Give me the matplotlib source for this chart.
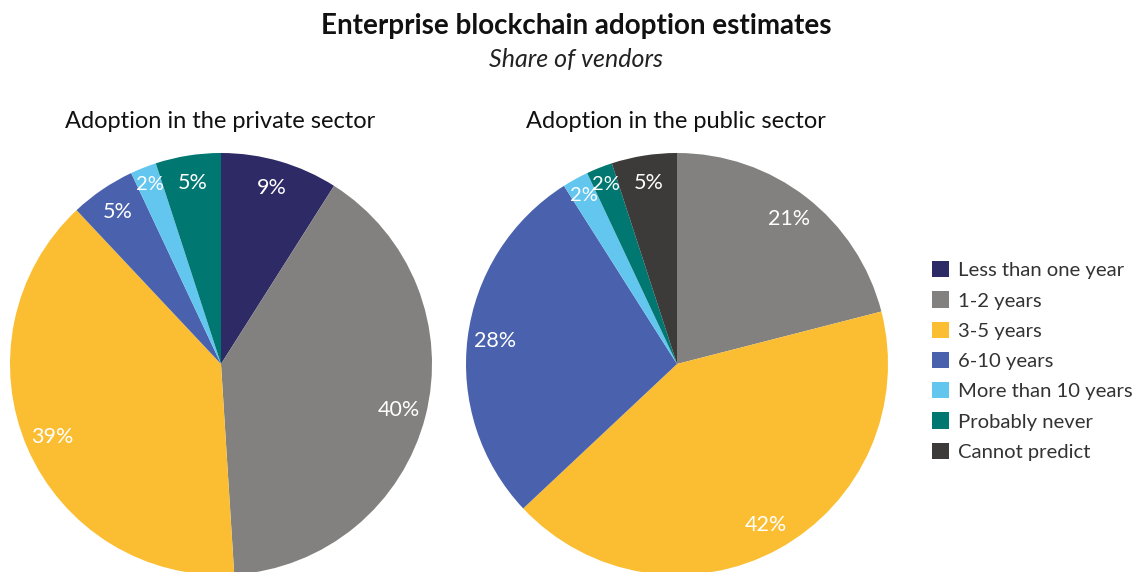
import matplotlib
matplotlib.use("Agg")
import matplotlib.pyplot as plt
from matplotlib.patches import Patch

plt.rcParams['font.family'] = ['Lato', 'DejaVu Sans']

categories = ["Less than one year", "1-2 years", "3-5 years", "6-10 years",
              "More than 10 years", "Probably never", "Cannot predict"]
colors = ["#2E2A66", "#82817F", "#FBBE33", "#4A62AE", "#63C6EE", "#007770", "#3C3B39"]

private_share = [9, 40, 39, 5, 2, 5, 0]
public_share = [0, 21, 42, 28, 2, 2, 5]


def pct_label(p):
    return f"{p:.0f}%" if p > 0.5 else ""


fig = plt.figure(figsize=(11.4, 5.72), dpi=100)

fig.text(576 / 1140, 1 - 26 / 572, "Enterprise blockchain adoption estimates", ha="center", va="center",
         fontsize=20, fontweight="bold", color="#111111")
fig.text(576 / 1140, 1 - 60 / 572, "Share of vendors", ha="center", va="center",
         fontsize=18, style="italic", color="#222222")

panels = [
    (private_share, "Adoption in the private sector", 10, 220),
    (public_share, "Adoption in the public sector", 466, 676),
]
for values, title, left_px, title_x in panels:
    ax = fig.add_axes([left_px / 1140, -3 / 572, 422 / 1140, 422 / 572])
    wedges, texts, autotexts = ax.pie(values, colors=colors, startangle=90, counterclock=False,
                                      autopct=pct_label, pctdistance=0.87,
                                      wedgeprops=dict(linewidth=0))
    for t, v in zip(autotexts, values):
        t.set_color("white")
        t.set_fontsize(15.5)
        if v <= 2:
            # thin slices: push the label a little further out, as in the original
            x, y = t.get_position()
            t.set_position((x * 1.05, y * 1.05))
            t.set_fontsize(14.5)
    ax.set_xlim(-1, 1)
    ax.set_ylim(-1, 1)
    ax.set_aspect("equal")
    ax.axis("off")
    fig.text(title_x / 1140, 1 - 121 / 572, title, ha="center", va="center",
             fontsize=17, color="#111111")

handles = [Patch(facecolor=c, edgecolor="none") for c in colors]
fig.legend(handles, categories, loc="center left", bbox_to_anchor=(914 / 1140, 1 - 361 / 572),
           frameon=False, fontsize=14.6, handlelength=0.85, handleheight=0.85,
           handletextpad=0.4, labelspacing=0.6, labelcolor="#333333")

fig.savefig("out.png", dpi=100)
